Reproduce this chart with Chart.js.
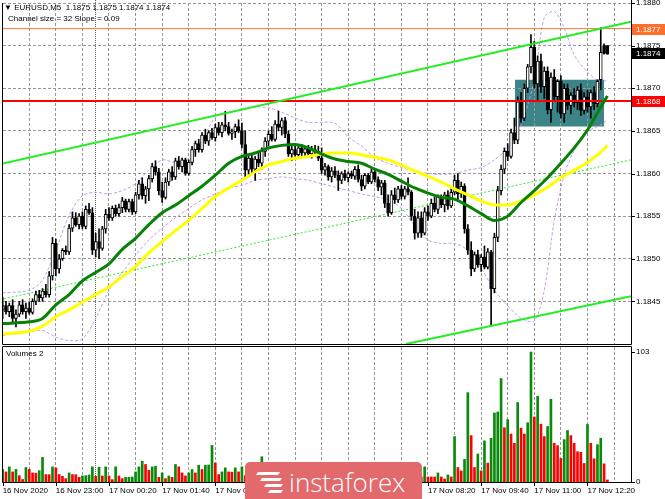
<!DOCTYPE html>
<html>
<head>
<meta charset="utf-8">
<script src="https://cdn.jsdelivr.net/npm/chart.js@4.4.1/dist/chart.umd.min.js"></script>
<style>
body{margin:0;background:#fff;width:665px;height:499px;overflow:hidden;position:relative;font-family:"Liberation Sans",Arial,sans-serif}
canvas{position:absolute;left:0}
#main{top:0}
#vol{top:345px}
.txt{position:absolute;font-size:8px;color:#000;white-space:pre;line-height:9px}
#logo{position:absolute;left:245px;top:462px;width:177px;height:40px;background:#e2696c;border-radius:5px 5px 0 0;overflow:hidden}
#logo span{position:absolute;left:44px;top:2px;color:#fff;font-family:"Open Sans",sans-serif;font-size:26px;font-weight:300}
#logo i{position:absolute;background:#fff;height:3px;transform:skewX(-35deg)}
</style>
</head>
<body>
<canvas id="main" width="665" height="345"></canvas>
<canvas id="vol" width="665" height="154"></canvas>
<div class="txt" style="left:4px;top:3px">▼ EURUSD,M5  1.1875 1.1875 1.1874 1.1874</div>
<div class="txt" style="left:8px;top:14px">Channel size = 32 Slope = 0.09</div>
<div class="txt" style="left:6px;top:349px">Volumes 2</div>
<div id="logo"><i style="left:12px;top:10px;width:22px"></i><i style="left:16px;top:16px;width:20px"></i><i style="left:20px;top:22px;width:17px"></i><i style="left:24px;top:28px;width:13px"></i><span>instaforex</span></div>
<script>
// EURUSD M5, 16 Nov 21:40 .. 17 Nov 12:50 (bar 0 .. 182)
const opens = [1.18440,1.18445,1.18438,1.18445,1.18430,1.18435,1.18446,1.18438,1.18442,1.18437,
1.18450,1.18458,1.18454,1.18462,1.18458,1.18480,1.18518,1.18488,1.18500,1.18510,
1.18508,1.18536,1.18548,1.18540,1.18550,1.18538,1.18558,1.18554,1.18510,1.18520,
1.18512,1.18535,1.18552,1.18548,1.18559,1.18553,1.18560,1.18568,1.18558,1.18567,
1.18555,1.18575,1.18588,1.18574,1.18582,1.18594,1.18608,1.18602,1.18580,1.18572,
1.18590,1.18602,1.18596,1.18615,1.18608,1.18616,1.18600,1.18613,1.18628,1.18635,
1.18628,1.18645,1.18638,1.18648,1.18642,1.18654,1.18648,1.18657,1.18655,1.18647,
1.18649,1.18655,1.18650,1.18634,1.18604,1.18618,1.18605,1.18617,1.18612,1.18626,
1.18638,1.18646,1.18640,1.18658,1.18654,1.18662,1.18646,1.18623,1.18628,1.18622,
1.18630,1.18624,1.18629,1.18623,1.18628,1.18626,1.18618,1.18604,1.18608,1.18596,
1.18603,1.18598,1.18592,1.18600,1.18595,1.18600,1.18597,1.18605,1.18593,1.18585,
1.18598,1.18590,1.18602,1.18593,1.18584,1.18589,1.18565,1.18554,1.18575,1.18569,
1.18582,1.18573,1.18582,1.18578,1.18550,1.18530,1.18548,1.18530,1.18555,1.18550,
1.18565,1.18558,1.18572,1.18563,1.18575,1.18562,1.18578,1.18592,1.18576,1.18585,
1.18535,1.18510,1.18488,1.18505,1.18493,1.18502,1.18490,1.18508,1.18465,1.18525,
1.18580,1.18605,1.18626,1.18620,1.18648,1.18639,1.18684,1.18665,1.18700,1.18725,
1.18748,1.18705,1.18732,1.18702,1.18720,1.18675,1.18713,1.18690,1.18708,1.18670,
1.18700,1.18680,1.18692,1.18683,1.18698,1.18674,1.18690,1.18678,1.18695,1.18682,
1.18710,1.18750,1.18750];
const highs = [1.18455,1.18450,1.18448,1.18452,1.18440,1.18450,1.18452,1.18448,1.18449,1.18453,
1.18462,1.18463,1.18465,1.18470,1.18485,1.18525,1.18523,1.18505,1.18512,1.18515,
1.18540,1.18555,1.18554,1.18553,1.18555,1.18562,1.18565,1.18560,1.18530,1.18535,
1.18538,1.18558,1.18560,1.18562,1.18563,1.18564,1.18572,1.18570,1.18570,1.18570,
1.18578,1.18592,1.18595,1.18585,1.18598,1.18612,1.18615,1.18606,1.18590,1.18595,
1.18605,1.18608,1.18618,1.18620,1.18618,1.18618,1.18616,1.18632,1.18638,1.18640,
1.18648,1.18652,1.18650,1.18653,1.18658,1.18660,1.18660,1.18673,1.18660,1.18652,
1.18658,1.18663,1.18659,1.18650,1.18623,1.18622,1.18620,1.18625,1.18630,1.18642,
1.18650,1.18655,1.18662,1.18673,1.18665,1.18666,1.18650,1.18632,1.18633,1.18633,
1.18634,1.18632,1.18633,1.18632,1.18633,1.18632,1.18630,1.18612,1.18610,1.18607,
1.18608,1.18603,1.18602,1.18604,1.18602,1.18603,1.18608,1.18610,1.18598,1.18600,
1.18600,1.18605,1.18605,1.18596,1.18592,1.18592,1.18575,1.18580,1.18583,1.18585,
1.18586,1.18585,1.18595,1.18580,1.18558,1.18555,1.18555,1.18560,1.18562,1.18570,
1.18572,1.18575,1.18575,1.18578,1.18580,1.18582,1.18598,1.18600,1.18590,1.18588,
1.18540,1.18520,1.18508,1.18510,1.18505,1.18515,1.18512,1.18510,1.18530,1.18585,
1.18610,1.18630,1.18635,1.18652,1.18665,1.18690,1.18695,1.18705,1.18728,1.18763,
1.18755,1.18738,1.18740,1.18725,1.18725,1.18718,1.18722,1.18710,1.18715,1.18705,
1.18705,1.18695,1.18700,1.18702,1.18705,1.18695,1.18698,1.18698,1.18702,1.18710,
1.18771,1.18752,1.18750];
const lows = [1.18430,1.18435,1.18432,1.18425,1.18420,1.18432,1.18435,1.18430,1.18435,1.18435,
1.18446,1.18450,1.18450,1.18455,1.18455,1.18475,1.18480,1.18483,1.18498,1.18505,
1.18505,1.18532,1.18538,1.18535,1.18535,1.18535,1.18552,1.18505,1.18502,1.18500,
1.18510,1.18530,1.18545,1.18545,1.18550,1.18550,1.18554,1.18555,1.18555,1.18552,
1.18553,1.18570,1.18570,1.18565,1.18568,1.18590,1.18598,1.18575,1.18566,1.18570,
1.18586,1.18592,1.18593,1.18605,1.18602,1.18598,1.18598,1.18610,1.18620,1.18625,
1.18625,1.18635,1.18633,1.18640,1.18638,1.18645,1.18643,1.18650,1.18645,1.18640,
1.18642,1.18648,1.18630,1.18595,1.18596,1.18600,1.18592,1.18608,1.18605,1.18620,
1.18632,1.18638,1.18638,1.18650,1.18645,1.18642,1.18620,1.18615,1.18620,1.18618,
1.18620,1.18619,1.18620,1.18618,1.18622,1.18615,1.18600,1.18598,1.18592,1.18590,
1.18595,1.18580,1.18588,1.18592,1.18590,1.18594,1.18593,1.18590,1.18580,1.18582,
1.18588,1.18588,1.18590,1.18580,1.18575,1.18560,1.18550,1.18552,1.18565,1.18566,
1.18570,1.18570,1.18575,1.18545,1.18523,1.18525,1.18525,1.18528,1.18545,1.18548,
1.18555,1.18553,1.18560,1.18555,1.18558,1.18560,1.18575,1.18570,1.18572,1.18530,
1.18505,1.18480,1.18485,1.18490,1.18485,1.18488,1.18488,1.18422,1.18460,1.18520,
1.18575,1.18600,1.18615,1.18618,1.18635,1.18635,1.18660,1.18662,1.18695,1.18718,
1.18700,1.18685,1.18695,1.18688,1.18670,1.18660,1.18685,1.18672,1.18665,1.18660,
1.18675,1.18670,1.18678,1.18675,1.18668,1.18670,1.18672,1.18665,1.18675,1.18678,
1.18698,1.18740,1.18740];
const closes = [1.18445,1.18438,1.18445,1.18430,1.18435,1.18446,1.18438,1.18442,1.18437,1.18450,
1.18458,1.18454,1.18462,1.18458,1.18480,1.18518,1.18488,1.18500,1.18510,1.18508,
1.18536,1.18548,1.18540,1.18550,1.18538,1.18558,1.18554,1.18510,1.18520,1.18512,
1.18535,1.18552,1.18548,1.18559,1.18553,1.18560,1.18568,1.18558,1.18567,1.18555,
1.18575,1.18588,1.18574,1.18582,1.18594,1.18608,1.18602,1.18580,1.18572,1.18590,
1.18602,1.18596,1.18615,1.18608,1.18616,1.18600,1.18613,1.18628,1.18635,1.18628,
1.18645,1.18638,1.18648,1.18642,1.18654,1.18648,1.18657,1.18655,1.18647,1.18649,
1.18655,1.18650,1.18634,1.18604,1.18618,1.18605,1.18617,1.18612,1.18626,1.18638,
1.18646,1.18640,1.18658,1.18654,1.18662,1.18646,1.18623,1.18628,1.18622,1.18630,
1.18624,1.18629,1.18623,1.18628,1.18626,1.18618,1.18604,1.18608,1.18596,1.18603,
1.18598,1.18592,1.18600,1.18595,1.18600,1.18597,1.18605,1.18593,1.18585,1.18598,
1.18590,1.18602,1.18593,1.18584,1.18589,1.18565,1.18554,1.18575,1.18569,1.18582,
1.18573,1.18582,1.18578,1.18550,1.18530,1.18548,1.18530,1.18555,1.18550,1.18565,
1.18558,1.18572,1.18563,1.18575,1.18562,1.18578,1.18592,1.18576,1.18585,1.18535,
1.18510,1.18488,1.18505,1.18493,1.18502,1.18490,1.18508,1.18465,1.18525,1.18580,
1.18605,1.18626,1.18620,1.18648,1.18639,1.18684,1.18665,1.18700,1.18725,1.18748,
1.18705,1.18732,1.18702,1.18720,1.18675,1.18713,1.18690,1.18708,1.18670,1.18700,
1.18680,1.18692,1.18683,1.18698,1.18674,1.18690,1.18678,1.18695,1.18682,1.18708,
1.18742,1.18741,1.18740];
const volumes = [10,8,12,8,10,5,2,11.5,10,7.2,7,9,19.5,5.9,5.8,12,11.2,5.9,4.5,2.7,
7.2,5.9,5.8,3.7,4.8,5,5.6,12,4.5,11.7,4.8,12,4.8,1.9,12,4.8,2.7,3.7,3.8,3.9,
8,12,16.5,13.9,9.3,12,12.5,3.7,7.2,2.7,4.8,3.7,13.9,12,7.2,4.8,7.2,9.9,7.2,13.3,
9.9,13.3,13.5,29,15,5.9,8,11.2,8,7.8,11.2,8,12,5,9,6,4,8,20,11,
6,9,5,7,4,10,12,6,3,5,4,7,3,6,4,8,15,6,9,5,
3,7,4,2,6,5,8,4,10,6,3,5,4,8,6,11,9,5,7,4,
6,3,7,13,9,6,4,12,4,4,4,7.2,4,2.4,5.6,4,36,11.5,8.8,17.9,
70.8,36.8,11.5,22.2,8.8,32.6,15,34.7,54.7,55.5,82,43,49.4,38,30.7,63,42.7,38,47,103,
51.5,68,45.8,36,44,65.6,30.7,28.8,18.7,33.6,40.8,36.8,30.7,24,23.5,14.7,45.6,30.7,18.4,29.6,
34.7,14.4,1.6];

// indicator lines, at these bars
const maBars = [0,8,12,16,20,24,28,32,36,40,44,48,52,56,60,64,68,72,76,80,84,88,92,96,100,104,108,112,116,120,124,128,132,136,140,144,148,152,156,160,164,168,172,176,180,182];
const maGreen = [1.18424,1.18426,1.18430,1.18446,1.18458,1.18474,1.18484,1.18494,1.18511,1.18524,1.18540,1.18554,1.18563,1.18574,1.18585,1.18598,1.18612,1.18620,1.18624,1.18630,1.18633,1.18634,1.18630,1.18623,1.18617,1.18614,1.18612,1.18605,1.18599,1.18591,1.18583,1.18577,1.18572,1.18570,1.18562,1.18553,1.18545,1.18550,1.18566,1.18580,1.18595,1.18612,1.18630,1.18651,1.18678,1.18691];
const maYellow = [1.18412,1.18415,1.18421,1.18432,1.18440,1.18449,1.18458,1.18467,1.18479,1.18491,1.18507,1.18520,1.18533,1.18545,1.18559,1.18573,1.18583,1.18592,1.18602,1.18610,1.18614,1.18618,1.18620,1.18623,1.18624,1.18624,1.18622,1.18619,1.18616,1.18610,1.18603,1.18597,1.18590,1.18582,1.18575,1.18568,1.18563,1.18563,1.18568,1.18575,1.18584,1.18595,1.18604,1.18613,1.18625,1.18633];
const bandBars = [0,8,12,16,20,24,28,32,36,40,44,48,52,56,60,64,68,72,76,80,84,88,92,96,100,104,108,112,116,120,124,128,132,136,140,144,148,152,156,160,163,166,169,172,176,180,182];
const bandUpper = [1.18460,1.18463,1.18475,1.18510,1.18551,1.18574,1.18578,1.18576,1.18580,1.18588,1.18604,1.18616,1.18613,1.18618,1.18639,1.18666,1.18672,1.18675,1.18678,1.18677,1.18672,1.18665,1.18660,1.18660,1.18659,1.18643,1.18632,1.18619,1.18612,1.18607,1.18603,1.18600,1.18599,1.18600,1.18604,1.18607,1.18616,1.18630,1.18657,1.18710,1.18783,1.18790,1.18771,1.18739,1.18719,1.18707,1.18710];
const bandLower = [1.18410,1.18414,1.18416,1.18408,1.18404,1.18406,1.18430,1.18463,1.18484,1.18504,1.18522,1.18536,1.18548,1.18559,1.18569,1.18576,1.18583,1.18586,1.18592,1.18594,1.18596,1.18594,1.18592,1.18588,1.18584,1.18580,1.18576,1.18573,1.18569,1.18559,1.18539,1.18522,1.18518,1.18518,1.18510,1.18489,1.18463,1.18445,1.18430,1.18427,1.18463,1.18545,1.18598,1.18627,1.18649,1.18657,1.18663];

// hand drawn objects: [bar, price] end points
const channelUpper = [[-0.8,1.18611],[189.1,1.18778]];
const channelLower = [[121.4,1.18400],[189.1,1.18456]];
const channelMid = [[-0.8,1.18452],[189.1,1.18616]];
const boxBars = [154.2,181];
const boxPrices = [1.18655,1.18710];
const levels = [1.18770,1.18685];
const levelColors = ['#ff7a33','#ff0000'];
const priceTags = [1.18770,1.18741,1.18685];
const priceTagText = ['1.1877','1.1874','1.1868'];
const priceTagColors = ['#ff6e2a','#000000','#ff0000'];

const priceTicks = [1.1845,1.1850,1.1855,1.1860,1.1865,1.1870,1.1875,1.1880];
const labelBars = [0,16,32,48,64,80,96,112,128,144,160,176];
const timeLabels = ['16 Nov 2020','16 Nov 23:00','17 Nov 00:20','17 Nov 01:40','17 Nov 03:00','17 Nov 04:20','17 Nov 05:40','17 Nov 07:00','17 Nov 08:20','17 Nov 09:40','17 Nov 11:00','17 Nov 12:20'];
const daySepBar = 28;
const gridBars = [8,16,24,32,40,48,56,64,72,80,88,96,104,112,120,128,136,144,152,160,168,176,184];
const volTicks = [0,103];

const X_MIN = 0.1, X_MAX = 189.1;
const font = {family:'Liberation Sans', size:8};

const pts = (xs, ys) => xs.map((x, i) => ({x: x, y: ys[i]}));
const seg = a => a.map(p => ({x: p[0], y: p[1]}));

// dotted/dashed line made of small rects
function vdash(ctx, x, y0, y1, on, step, color) {
  ctx.fillStyle = color;
  for (let y = y0; y < y1; y += step) ctx.fillRect(x, y, 1, on);
}
function hdash(ctx, y, x0, x1, on, step, color) {
  ctx.fillStyle = color;
  for (let x = x0; x < x1; x += step) ctx.fillRect(x, y, on, 1);
}

const gridLines = {
  id:'gridLines',
  beforeDatasetsDraw(chart){
    const ctx = chart.ctx, a = chart.chartArea, xs = chart.scales.x;
    const main = chart.canvas.id === 'main';
    const top = Math.round(a.top), bot = Math.round(a.bottom);
    ctx.save();
    for (const v of gridBars) {
      vdash(ctx, Math.floor(xs.getPixelForValue(v)), top, bot, 3, 5, '#969696');
    }
    if (main) {
      for (const v of priceTicks) {
        hdash(ctx, Math.floor(chart.scales.y.getPixelForValue(v)), Math.round(a.left), Math.round(a.right), 3, 5, '#969696');
      }
    }
    vdash(ctx, Math.floor(xs.getPixelForValue(daySepBar)), main ? 0 : top, bot, 1, 2, '#5a5a5a');
    ctx.restore();
  },
  afterDraw(chart){
    const a = chart.chartArea, ctx = chart.ctx, ys = chart.scales.y;
    const main = chart.canvas.id === 'main';
    ctx.save();
    ctx.strokeStyle = '#000'; ctx.lineWidth = 1;
    ctx.beginPath();
    ctx.moveTo(a.left - 0.5, a.top); ctx.lineTo(a.left - 0.5, a.bottom + 0.5);
    ctx.lineTo(a.right + 0.5, a.bottom + 0.5); ctx.lineTo(a.right + 0.5, main ? 0 : a.top - 0.5);
    if (!main) ctx.lineTo(a.left - 0.5, a.top - 0.5);
    (main ? priceTicks : volTicks).forEach(v => {
      const py = Math.round(ys.getPixelForValue(v)) + 0.5;
      ctx.moveTo(a.right, py); ctx.lineTo(a.right + 4, py);
    });
    if (!main) {
      labelBars.forEach(v => {
        const px = Math.round(chart.scales.x.getPixelForValue(v)) + 0.5;
        ctx.moveTo(px, a.bottom); ctx.lineTo(px, a.bottom + 4);
      });
    }
    ctx.stroke();
    ctx.restore();
  }
};

const tags = {
  id:'tags',
  afterDraw(chart){
    const ctx = chart.ctx, y = chart.scales.y;
    ctx.save();
    ctx.font = '8px "Liberation Sans"';
    ctx.textBaseline = 'middle';
    priceTags.forEach((p, i) => {
      const py = Math.round(y.getPixelForValue(p));
      ctx.fillStyle = priceTagColors[i];
      ctx.fillRect(632, py - 5, 33, 11);
      ctx.fillStyle = '#fff';
      ctx.fillText(priceTagText[i], 636, py + 0.5);
    });
    ctx.restore();
  }
};

const bodyColors = opens.map((o, i) => closes[i] >= o ? '#ffffff' : '#000000');

new Chart(document.getElementById('main'), {
  type:'bar',
  data:{
    datasets:[
      { type:'line', data: pts(boxBars, [boxPrices[1], boxPrices[1]]), fill:{value: boxPrices[0]},
        backgroundColor:'#3b8488', borderWidth:0, pointRadius:0, order:20 },
      { type:'line', data: pts(bandBars, bandUpper), borderColor:'#c59af0', borderWidth:1, borderDash:[3,2], pointRadius:0, tension:0.3, order:15 },
      { type:'line', data: pts(bandBars, bandLower), borderColor:'#c59af0', borderWidth:1, borderDash:[3,2], pointRadius:0, tension:0.3, order:15 },
      { type:'line', data: seg(channelMid), borderColor:'#22ee22', borderWidth:1, borderDash:[2,2], pointRadius:0, order:14 },
      { data: opens.map((o, i) => ({x:i, y:[lows[i], highs[i]]})), backgroundColor:'#000', barThickness:1, grouped:false, order:8 },
      { data: opens.map((o, i) => ({x:i, y:[o, closes[i]]})), backgroundColor:bodyColors, borderColor:'#000', borderWidth:1,
        borderSkipped:false, barThickness:3, minBarLength:1, grouped:false, order:7 },
      { type:'line', data: [{x:X_MIN,y:levels[0]},{x:X_MAX,y:levels[0]}], borderColor:levelColors[0], borderWidth:1, pointRadius:0, order:5 },
      { type:'line', data: [{x:X_MIN,y:levels[1]},{x:X_MAX,y:levels[1]}], borderColor:levelColors[1], borderWidth:2, pointRadius:0, order:5 },
      { type:'line', data: pts(maBars, maYellow), borderColor:'#ffff00', borderWidth:3, pointRadius:0, cubicInterpolationMode:'monotone', order:4 },
      { type:'line', data: pts(maBars, maGreen), borderColor:'#078207', borderWidth:3, pointRadius:0, cubicInterpolationMode:'monotone', order:3 },
      { type:'line', data: seg(channelUpper), borderColor:'#22ee22', borderWidth:2, pointRadius:0, order:2 },
      { type:'line', data: seg(channelLower), borderColor:'#22ee22', borderWidth:2, pointRadius:0, order:2 }
    ]
  },
  options:{
    responsive:false, animation:false, events:[],
    layout:{ padding:{left:3, top:3, right:0, bottom:1} },
    plugins:{ legend:{display:false}, tooltip:{enabled:false}, filler:{drawTime:'beforeDraw'} },
    scales:{
      x:{ type:'linear', min:X_MIN, max:X_MAX, offset:false,
        ticks:{display:false}, grid:{display:false, drawTicks:false}, border:{display:false},
        afterFit: s => { s.height = 0; s.paddingLeft = 0; s.paddingRight = 0 } },
      y:{ position:'right', min:1.1840, max:1.1880,
        afterBuildTicks: s => { s.ticks = priceTicks.map(v => ({value:v})) },
        ticks:{ callback: v => v.toFixed(4), font:font, color:'#000', padding:2 },
        grid:{ display:false, tickLength:3 }, border:{ display:false },
        afterFit: s => { s.width = 34; s.paddingTop = 0; s.paddingBottom = 0 } }
    }
  },
  plugins:[gridLines, tags]
});

const volColors = volumes.map((v, i) => i === 0 || v > volumes[i - 1] ? '#0a8a0a' : '#ff0000');

new Chart(document.getElementById('vol'), {
  type:'bar',
  data:{ datasets:[ { data: volumes.map((v, i) => ({x:i, y:v})), backgroundColor:volColors, barThickness:2 } ] },
  options:{
    responsive:false, animation:false, events:[],
    layout:{ padding:{left:3, top:2, right:0, bottom:0} },
    plugins:{ legend:{display:false}, tooltip:{enabled:false} },
    scales:{
      x:{ type:'linear', min:X_MIN, max:X_MAX, offset:false,
        afterBuildTicks: s => { s.ticks = labelBars.map(v => ({value:v})) },
        ticks:{ autoSkip:false, maxRotation:0, align:'start', font:font, color:'#000', padding:1,
          callback: v => { const k = labelBars.indexOf(v); return k >= 0 ? timeLabels[k] : '' } },
        grid:{ display:false, tickLength:3 }, border:{ display:false },
        afterFit: s => { s.height = 17; s.paddingLeft = 0; s.paddingRight = 0 } },
      y:{ position:'right', min:0, max:107,
        afterBuildTicks: s => { s.ticks = volTicks.map(v => ({value:v})) },
        ticks:{ font:font, color:'#000', padding:2 },
        grid:{ display:false, tickLength:3 }, border:{ display:false },
        afterFit: s => { s.width = 34; s.paddingTop = 0; s.paddingBottom = 0 } }
    }
  },
  plugins:[gridLines]
});
</script>
</body>
</html>
